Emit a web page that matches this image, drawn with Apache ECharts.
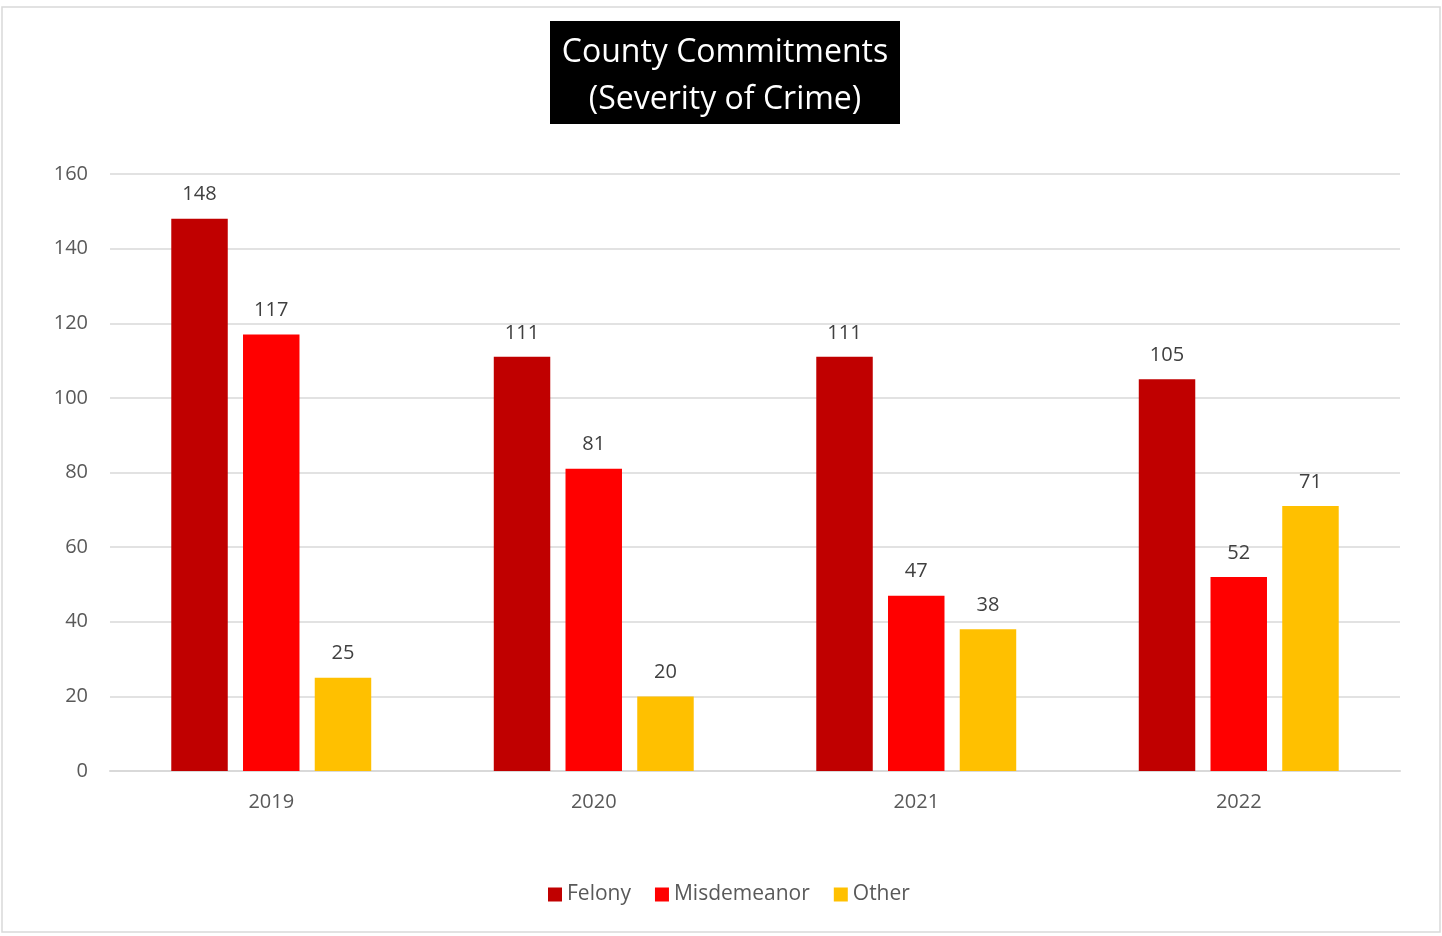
<!DOCTYPE html>
<html>
<head>
<meta charset="utf-8">
<script src="https://cdn.jsdelivr.net/npm/echarts@6/dist/echarts.min.js"></script>
<style>
html,body{margin:0;padding:0;background:#fff;}
#chart{width:1442px;height:936px;}
</style>
</head>
<body>
<div id="chart"></div>
<script>
const years = ['2019', '2020', '2021', '2022'];
const felony = [148, 111, 111, 105];
const misdemeanor = [117, 81, 47, 52];
const other = [25, 20, 38, 71];
const yTicks = [0, 20, 40, 60, 80, 100, 120, 140, 160];

const FONT = '"Open Sans", "Noto Sans", sans-serif';
const chart = echarts.init(document.getElementById('chart'));
const labelCfg = {show: true, position: 'top', distance: 14, color: '#404040', fontSize: 20, fontFamily: FONT};
function mk(name, data, color) {
  return {name, type: 'bar', data, itemStyle: {color}, label: labelCfg,
    barGap: '27%', barCategoryGap: '38%'};
}
chart.setOption({
  backgroundColor: '#fff',
  animation: false,
  graphic: [{type: 'rect', shape: {x: 2, y: 7, width: 1438, height: 925},
    style: {fill: 'none', stroke: '#d9d9d9', lineWidth: 1.5}, z: -1}],
  title: {
    text: '{a|County Commitments}\n{a|(Severity of Crime)}',
    left: 550, top: 21,
    backgroundColor: '#000',
    padding: [8, 0, 1, 0],
    textStyle: {
      color: '#fff', fontSize: 32, fontWeight: 'normal', lineHeight: 47, fontFamily: FONT,
      rich: {a: {color: '#fff', fontSize: 32, lineHeight: 47, fontFamily: FONT, width: 350, align: 'center'}}
    }
  },
  legend: {
    bottom: 26, left: 543,
    icon: 'rect', itemWidth: 14, itemHeight: 14, itemGap: 24,
    textStyle: {color: '#595959', fontSize: 21, fontFamily: FONT},
    data: ['Felony', 'Misdemeanor', 'Other']
  },
  grid: {left: 110, right: 42, top: 174, bottom: 165, containLabel: false},
  xAxis: {
    type: 'category', data: years,
    axisLine: {lineStyle: {color: '#d9d9d9', width: 2}},
    axisTick: {show: false},
    axisLabel: {color: '#595959', fontSize: 20, fontFamily: FONT, margin: 21}
  },
  yAxis: {
    type: 'value', min: yTicks[0], max: yTicks[yTicks.length - 1], interval: 20,
    axisLine: {show: false}, axisTick: {show: false},
    splitLine: {lineStyle: {color: '#d9d9d9', width: 1.5}},
    axisLabel: {color: '#595959', fontSize: 20, fontFamily: FONT, margin: 22}
  },
  series: [
    mk('Felony', felony, '#C00000'),
    mk('Misdemeanor', misdemeanor, '#FF0000'),
    mk('Other', other, '#FFC000')
  ]
});
</script>
</body>
</html>
